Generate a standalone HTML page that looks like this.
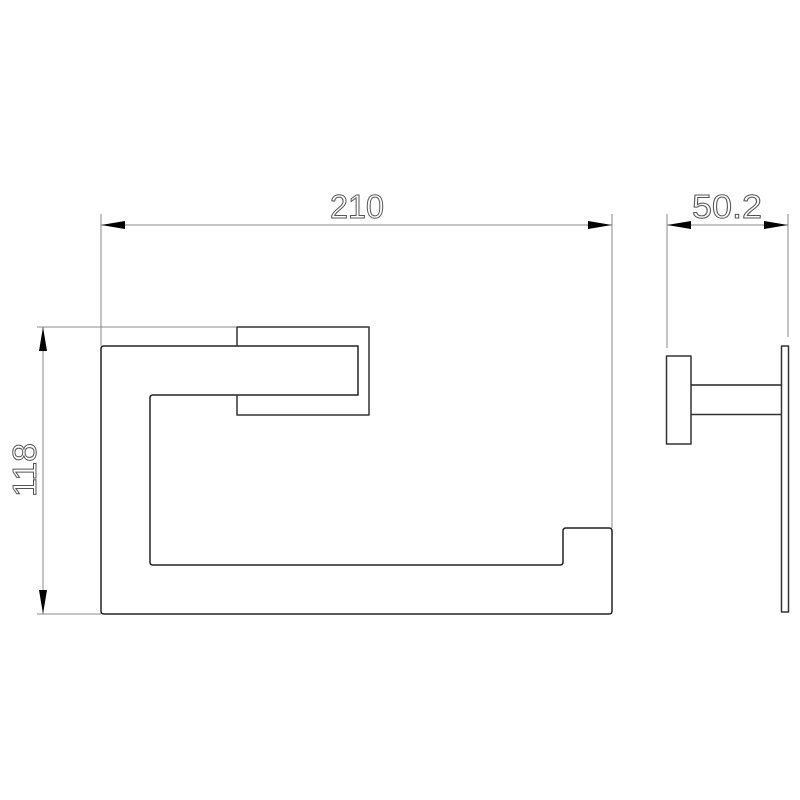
<!DOCTYPE html>
<html><head><style>html,body{margin:0;padding:0;background:#fff}svg{display:block}</style></head>
<body>
<svg width="800" height="800" viewBox="0 0 800 800" xmlns="http://www.w3.org/2000/svg">
<g fill="none" stroke-linejoin="round">
<!-- extension lines -->
<g stroke="#888" stroke-width="1">
<line x1="101" y1="214" x2="101" y2="346"/>
<line x1="612" y1="214" x2="612" y2="528"/>
<line x1="37" y1="327" x2="237" y2="327"/>
<line x1="37" y1="614" x2="101" y2="614"/>
<line x1="667" y1="214" x2="667" y2="348"/>
<line x1="788" y1="214" x2="788" y2="337"/>
<line x1="101" y1="225" x2="612" y2="225"/>
<line x1="43" y1="327" x2="43" y2="614"/>
<line x1="667" y1="225" x2="788" y2="225"/>
</g>
<!-- main frame -->
<path d="M104,346 H358 V395 H153 Q150,395 150,398 V562 Q150,565 153,565 H560 Q563,565 563,562 V531 Q563,528 566,528 H609 Q612,528 612,531 V611 Q612,614 609,614 H104 Q101,614 101,611 V349 Q101,346 104,346 Z" stroke="#222" stroke-width="1.5"/>
<!-- bracket -->
<path d="M237,346 V327 H369 V415 H237 V395" stroke="#333" stroke-width="1.5"/>
<!-- side view -->
<rect x="666.5" y="356" width="24.5" height="88" stroke="#333" stroke-width="1.5"/>
<line x1="691" y1="385" x2="781.5" y2="385" stroke="#222" stroke-width="1.5"/>
<line x1="691" y1="414.5" x2="781.5" y2="414.5" stroke="#333" stroke-width="1.5"/>
<rect x="781.5" y="346" width="7" height="266" stroke="#333" stroke-width="1.5"/>
</g>
<!-- arrows -->
<g fill="#000">
<polygon points="101,225 125,221 125,229"/>
<polygon points="612,225 588,221 588,229"/>
<polygon points="43,327 39,351 47,351"/>
<polygon points="43,614 39,590 47,590"/>
<polygon points="667,225 691,221 691,229"/>
<polygon points="788,225 764,221 764,229"/>
</g>
<g font-family="Liberation Sans, sans-serif" font-size="33" fill="#fff" stroke="#555" stroke-width="1" style="font-weight:normal" text-anchor="middle">
<text x="357" y="218" textLength="54" lengthAdjust="spacingAndGlyphs">210</text>
<text x="727" y="218" textLength="70" lengthAdjust="spacingAndGlyphs">50.2</text>
<text transform="translate(36,470) rotate(-90)" textLength="54" lengthAdjust="spacingAndGlyphs">118</text>
</g>
</svg>
</body></html>
